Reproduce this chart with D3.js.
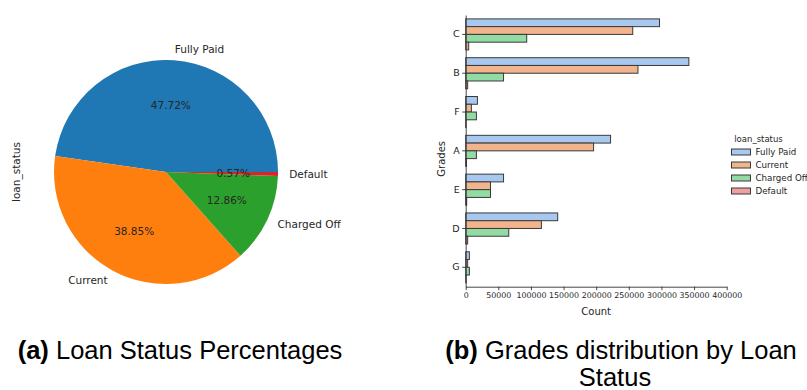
<!DOCTYPE html>
<html>
<head>
<meta charset="utf-8">
<script src="https://cdn.jsdelivr.net/npm/d3@7"></script>
<style>
  html, body { margin: 0; padding: 0; background: #fff; }
  svg { display: block; }
  .mpl { font-family: "DejaVu Sans", sans-serif; fill: #262626; }
  .cap { font-family: "Liberation Sans", Arial, sans-serif; fill: #000; }
</style>
</head>
<body>
<svg id="fig" width="807" height="390"></svg>
<script>
// pie data
const STATUS = ["Fully Paid", "Current", "Charged Off", "Default"];
const PIE_PCT = [47.72, 38.85, 12.86, 0.57];
const PIE_COLORS = ["#1f77b4", "#ff7f0e", "#2ca02c", "#d62728"];

// bar data (counts per grade, by status)
const GRADES = ["C", "B", "F", "A", "E", "D", "G"];
const FULLY_PAID  = [297000, 342000, 18000, 222000, 58000, 141000, 5600];
const CURRENT     = [256000, 264000, 8700, 196000, 38000, 116000, 3000];
const CHARGED_OFF = [93500, 58000, 16400, 16400, 38000, 66000, 5600];
const DEFAULT_    = [4600, 3000, 500, 1200, 1500, 3000, 500];
const X_TICKS = [0, 50000, 100000, 150000, 200000, 250000, 300000, 350000, 400000];
const BAR_COLORS = ["#a8c8ef", "#f1b48c", "#93dba5", "#eea1a0"];

const svg = d3.select("#fig");
svg.append("rect").attr("width", 807).attr("height", 390).attr("fill", "#fff");

// ---------- (a) pie ----------
const cx = 166, cy = 172, R = 112;
const pieG = svg.append("g").attr("transform", `translate(${cx},${cy})`);

// matplotlib starts at 3 o'clock and runs counter-clockwise
const pie = d3.pie().sort(null)
  .startAngle(Math.PI / 2)
  .endAngle(Math.PI / 2 - 2 * Math.PI);
const slices = pie(PIE_PCT);
const arc = d3.arc().innerRadius(0).outerRadius(R);

pieG.selectAll("path.slice")
  .data(slices)
  .join("path")
  .attr("class", "slice")
  .attr("d", arc)
  .attr("fill", (d, i) => PIE_COLORS[i]);

const polar = (a, r) => [r * Math.sin(a), -r * Math.cos(a)];

slices.forEach((d, i) => {
  const mid = (d.startAngle + d.endAngle) / 2;
  const [lx, ly] = polar(mid, R * 1.1);
  pieG.append("text").attr("class", "mpl")
    .attr("x", lx).attr("y", ly)
    .attr("dy", "0.35em")
    .attr("text-anchor", lx > 0 ? "start" : "end")
    .style("font-size", "10.5px")
    .text(STATUS[i]);
  const [px, py] = polar(mid, R * 0.6);
  pieG.append("text").attr("class", "mpl")
    .attr("x", px).attr("y", py)
    .attr("dy", "0.35em")
    .attr("text-anchor", "middle")
    .style("font-size", "10.5px")
    .text(PIE_PCT[i].toFixed(2) + "%");
});

svg.append("text").attr("class", "mpl")
  .attr("transform", `translate(20,${cy}) rotate(-90)`)
  .attr("text-anchor", "middle")
  .style("font-size", "10.5px")
  .text("loan_status");

// ---------- (b) grouped horizontal bars ----------
const X0 = 465.7, X1 = 726.7, Y0 = 15, Y1 = 286.7;
const series = [FULLY_PAID, CURRENT, CHARGED_OFF, DEFAULT_];

const x = d3.scaleLinear().domain([0, 400000]).range([X0, X1]);
const y = d3.scaleBand().domain(GRADES).range([Y0, Y1])
  .paddingInner(0.2).paddingOuter(0.1);
const yHue = d3.scaleBand().domain(STATUS).range([0, y.bandwidth()]);

const barG = svg.append("g");
GRADES.forEach((g, gi) => {
  STATUS.forEach((s, si) => {
    barG.append("rect")
      .attr("x", x(0))
      .attr("y", y(g) + yHue(s))
      .attr("width", x(series[si][gi]) - x(0))
      .attr("height", yHue.bandwidth())
      .attr("fill", BAR_COLORS[si])
      .attr("stroke", "#3a3a3a")
      .attr("stroke-width", 1);
  });
});

const xAxis = svg.append("g")
  .attr("transform", `translate(0,${Y1})`)
  .call(d3.axisBottom(x).tickValues(X_TICKS).tickFormat(d3.format("d"))
    .tickSize(3.5).tickSizeOuter(0).tickPadding(2));
const yAxis = svg.append("g")
  .attr("transform", `translate(${X0},0)`)
  .call(d3.axisLeft(y).tickSize(3.5).tickSizeOuter(0).tickPadding(2.5));

[xAxis, yAxis].forEach(ax => {
  ax.select(".domain").attr("stroke", "#333").attr("stroke-width", 0.9);
  ax.selectAll(".tick line").attr("stroke", "#333").attr("stroke-width", 0.9);
  ax.selectAll("text").attr("fill", "#262626")
    .style("font-family", "DejaVu Sans").style("font-size", "7.9px");
});
yAxis.selectAll("text").style("font-size", "9.5px");

svg.append("text").attr("class", "mpl")
  .attr("x", (X0 + X1) / 2).attr("y", 315)
  .attr("text-anchor", "middle")
  .style("font-size", "10px")
  .text("Count");

svg.append("text").attr("class", "mpl")
  .attr("transform", `translate(445,${(Y0 + Y1) / 2 + 8}) rotate(-90)`)
  .attr("text-anchor", "middle")
  .style("font-size", "10px")
  .text("Grades");

// legend
const leg = svg.append("g").attr("transform", "translate(731.5,139)");
leg.append("text").attr("class", "mpl")
  .attr("x", 27).attr("dy", "0.35em")
  .attr("text-anchor", "middle")
  .style("font-size", "8.5px")
  .text("loan_status");
STATUS.forEach((s, i) => {
  const row = leg.append("g").attr("transform", `translate(0,${13 + i * 13})`);
  row.append("rect").attr("x", 0).attr("y", -3).attr("width", 19).attr("height", 6)
    .attr("fill", BAR_COLORS[i]).attr("stroke", "#3a3a3a").attr("stroke-width", 1);
  row.append("text").attr("class", "mpl")
    .attr("x", 24).attr("dy", "0.35em")
    .style("font-size", "8.7px")
    .text(s);
});

// ---------- captions ----------
function caption(xc, yb, bold, rest) {
  const t = svg.append("text").attr("class", "cap")
    .attr("x", xc).attr("y", yb)
    .attr("text-anchor", "middle")
    .style("font-size", "25.5px");
  t.append("tspan").attr("font-weight", "bold").text(bold);
  t.append("tspan").text(rest);
  return t;
}
caption(180, 359, "(a)", " Loan Status Percentages");
caption(621, 359, "(b)", " Grades distribution by Loan");
svg.append("text").attr("class", "cap")
  .attr("x", 615).attr("y", 386)
  .attr("text-anchor", "middle")
  .style("font-size", "25.5px")
  .text("Status");
</script>
</body>
</html>
